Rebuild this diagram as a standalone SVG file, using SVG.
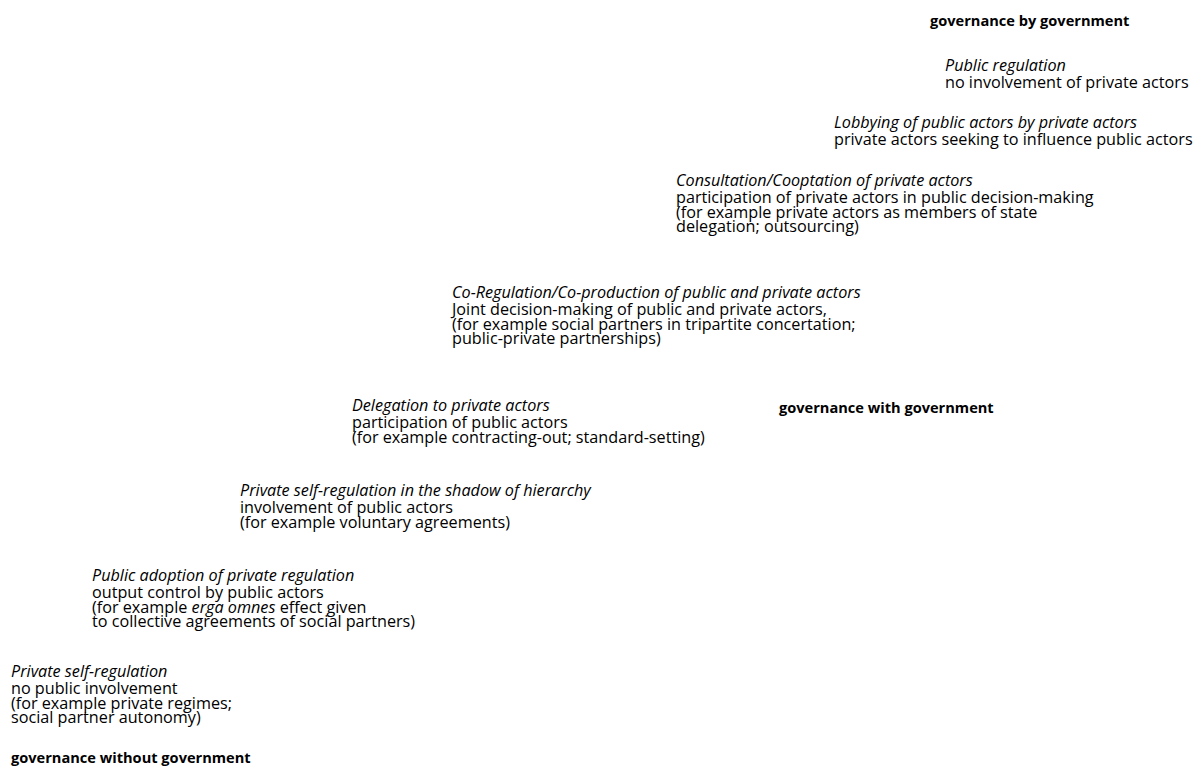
<svg xmlns="http://www.w3.org/2000/svg" width="1200" height="767" viewBox="0 0 1200 767">
<style>
text{font-family:"Open Sans","Noto Sans","DejaVu Sans",sans-serif;font-size:16.2px;fill:#000}
.i{font-style:italic}
.b{font-weight:bold;font-size:14.6px}
</style>
<rect width="1200" height="767" fill="#fff"/>
<g id="gov-by"><text class="b" x="930" y="26">governance by government</text></g>
<g id="public-regulation"><text x="945" y="71"><tspan class="i">Public regulation</tspan><tspan x="945" dy="17">no involvement of private actors</tspan></text></g>
<g id="lobbying"><text x="834" y="128"><tspan class="i">Lobbying of public actors by private actors</tspan><tspan x="834" dy="17">private actors seeking to influence public actors</tspan></text></g>
<g id="consultation"><text x="676" y="186"><tspan class="i">Consultation/Cooptation of private actors</tspan><tspan x="676" dy="17">participation of private actors in public decision-making</tspan><tspan x="676" dy="14.6">(for example private actors as members of state</tspan><tspan x="676" dy="14.6">delegation; outsourcing)</tspan></text></g>
<g id="coregulation"><text x="452" y="298"><tspan class="i">Co-Regulation/Co-production of public and private actors</tspan><tspan x="452" dy="17">Joint decision-making of public and private actors,</tspan><tspan x="452" dy="14.6">(for example social partners in tripartite concertation;</tspan><tspan x="452" dy="14.6">public-private partnerships)</tspan></text></g>
<g id="delegation"><text x="352" y="411"><tspan class="i">Delegation to private actors</tspan><tspan x="352" dy="17">participation of public actors</tspan><tspan x="352" dy="14.6">(for example contracting-out; standard-setting)</tspan></text></g>
<g id="gov-with"><text class="b" x="779" y="413">governance with government</text></g>
<g id="shadow"><text x="240" y="496"><tspan class="i">Private self-regulation in the shadow of hierarchy</tspan><tspan x="240" dy="17">involvement of public actors</tspan><tspan x="240" dy="14.6">(for example voluntary agreements)</tspan></text></g>
<g id="adoption"><text x="92" y="581"><tspan class="i">Public adoption of private regulation</tspan><tspan x="92" dy="17">output control by public actors</tspan><tspan x="92" dy="14.6">(for example <tspan class="i">erga omnes</tspan> effect given</tspan><tspan x="92" dy="14.6">to collective agreements of social partners)</tspan></text></g>
<g id="self-regulation"><text x="11" y="677"><tspan class="i">Private self-regulation</tspan><tspan x="11" dy="17">no public involvement</tspan><tspan x="11" dy="14.6">(for example private regimes;</tspan><tspan x="11" dy="14.6">social partner autonomy)</tspan></text></g>
<g id="gov-without"><text class="b" x="11" y="763">governance without government</text></g>
<g id="connectors"></g>
</svg>
